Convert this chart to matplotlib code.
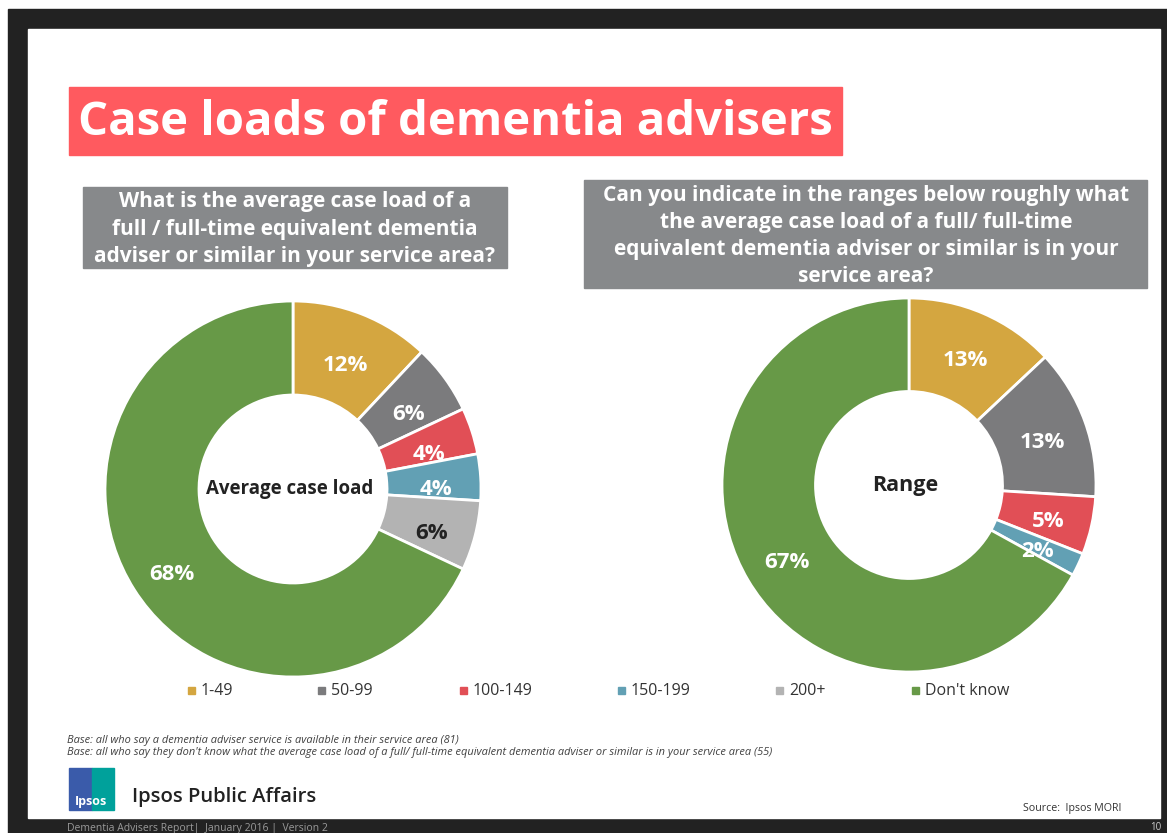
import matplotlib.pyplot as plt
from matplotlib.patches import Rectangle

plt.rcParams['font.family'] = ['Open Sans', 'DejaVu Sans']

# Datos
categories = ['1-49', '50-99', '100-149', '150-199', '200+', "Don't know"]
colors = ['#D4A640', '#7B7B7D', '#E14F56', '#62A0B4', '#B3B3B3', '#679947']
label_colors = ['white', 'white', 'white', 'white', '#222222', 'white']
avg_case_load = [12, 6, 4, 4, 6, 68]
range_case_load = [13, 13, 5, 2, 0, 67]

title = 'Case loads of dementia advisers'
question_left = ('What is the average case load of a\n'
                 'full / full-time equivalent dementia\n'
                 'adviser or similar in your service area?')
question_right = ('Can you indicate in the ranges below roughly what\n'
                  'the average case load of a full/ full-time\n'
                  'equivalent dementia adviser or similar is in your\n'
                  'service area?')
base_notes = [
    'Base: all who say a dementia adviser service is available in their service area (81)',
    "Base: all who say they don't know what the average case load of a full/ full-time "
    'equivalent dementia adviser or similar is in your service area (55)',
]

W, H = 1167, 833
fig = plt.figure(figsize=(W / 100, H / 100), dpi=100)
fig.patch.set_facecolor('white')

# Fondo en coordenadas de pixel
bg = fig.add_axes([0, 0, 1, 1])
bg.set_xlim(0, W)
bg.set_ylim(H, 0)
bg.axis('off')

bg.add_patch(Rectangle((8, 9), W - 8, H - 9, color='#222222', zorder=0))
bg.add_patch(Rectangle((28, 29), 1132, 789, color='white', zorder=1))

# Titulo
bg.add_patch(Rectangle((69, 87), 773, 68, color='#FF5A5F', zorder=2))
bg.text(78, 122, title, color='white', fontsize=34, fontweight='bold',
        va='center', ha='left', zorder=3)

# Preguntas
bg.add_patch(Rectangle((83, 187), 424, 81, color='#87898B', zorder=2))
bg.text(295, 229, question_left, color='white', fontsize=15, fontweight='bold',
        ha='center', va='center', linespacing=1.42, zorder=3)
bg.add_patch(Rectangle((584, 180), 563, 108, color='#87898B', zorder=2))
bg.text(866, 236, question_right, color='white', fontsize=15, fontweight='bold',
        ha='center', va='center', linespacing=1.38, zorder=3)


def donut(cx, cy, r, values, center_label, center_size, label_shift):
    pad = 1.04
    ax = fig.add_axes([(cx - r * pad) / W, 1 - (cy + r * pad) / H,
                       2 * r * pad / W, 2 * r * pad / H])
    vals = [v for v in values if v > 0]
    cols = [c for v, c in zip(values, colors) if v > 0]
    tcols = [c for v, c in zip(values, label_colors) if v > 0]
    wedges, texts, autotexts = ax.pie(
        vals, colors=cols, startangle=90, counterclock=False,
        wedgeprops=dict(width=0.5, edgecolor='white', linewidth=2),
        autopct='%.0f%%', pctdistance=0.76,
        textprops=dict(fontsize=16, fontweight='bold'))
    for t, c in zip(autotexts, tcols):
        t.set_color(c)
        x, y = t.get_position()
        t.set_position((x, y - label_shift))
    ax.text(-0.02, 0, center_label, ha='center', va='center', fontsize=center_size,
            fontweight='bold', color='#222222')
    ax.set_xlim(-pad, pad)
    ax.set_ylim(-pad, pad)
    ax.set_aspect('equal')
    ax.axis('off')


donut(293, 489, 188, avg_case_load, 'Average case load', 13.5, 0.05)
donut(909, 485, 187, range_case_load, 'Range', 15.5, 0.03)

# Leyenda
legend_sq = [191, 321, 463, 621, 779, 915]
for x, cat, c in zip(legend_sq, categories, colors):
    bg.add_patch(Rectangle((x - 3.5, 687), 7, 7, color=c, zorder=3))
    bg.text(x + 10, 691, cat, fontsize=11.5, color='#333333', va='center', ha='left', zorder=3)

# Notas
bg.text(67, 741, base_notes[0], fontsize=7.9, style='italic', color='#404040', va='center', zorder=3)
bg.text(67, 752, base_notes[1], fontsize=7.9, style='italic', color='#404040', va='center', zorder=3)

# Logo Ipsos
bg.add_patch(Rectangle((69, 768), 23, 42, color='#3A5BAA', zorder=3))
bg.add_patch(Rectangle((92, 768), 22, 42, color='#00A19B', zorder=3))
bg.text(91, 801, 'Ipsos', fontsize=9, fontweight='bold', color='white', ha='center', va='center', zorder=4)
bg.text(132, 797, 'Ipsos Public Affairs', fontsize=14.6, fontweight='semibold', color='#222222',
        ha='left', va='center', zorder=3)

bg.text(1023, 808, 'Source:  Ipsos MORI', fontsize=7.7, color='#333333', ha='left', va='center', zorder=3)
bg.text(67, 828, 'Dementia Advisers Report|  January 2016 |  Version 2', fontsize=7.5,
        color='#9A9A9A', ha='left', va='center', zorder=3)
bg.text(1161, 828, '10', fontsize=7, color='#CCCCCC', ha='right', va='center', zorder=3)

fig.savefig('out.png', dpi=100)
